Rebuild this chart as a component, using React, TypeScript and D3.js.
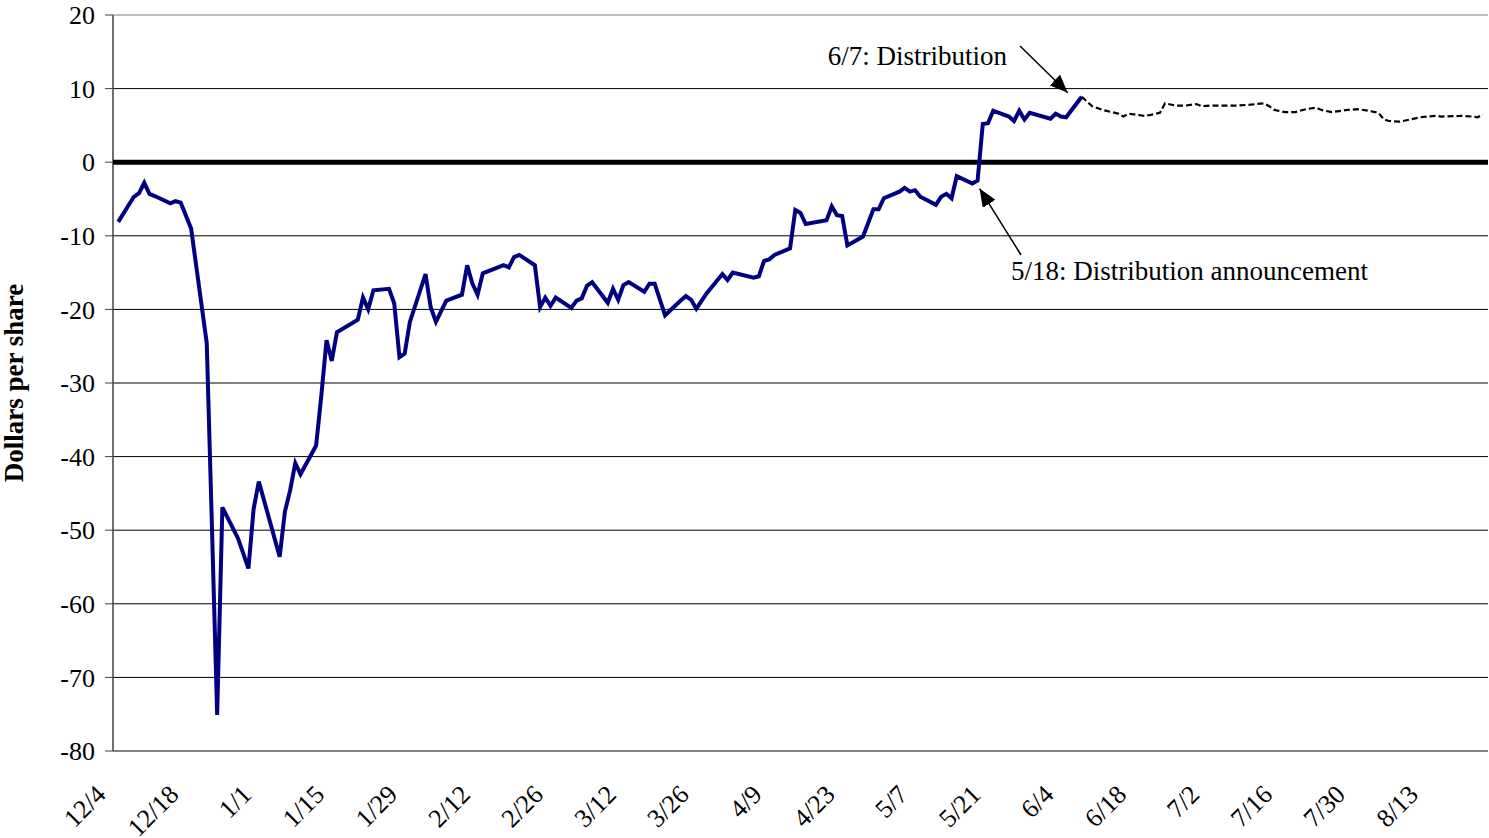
import React from "react";
import * as d3 from "d3";

const solidDates = [
  "2000-12-04","2000-12-07","2000-12-08","2000-12-09","2000-12-10","2000-12-11","2000-12-14","2000-12-15","2000-12-16","2000-12-18",
  "2000-12-21","2000-12-22","2000-12-23","2000-12-24","2000-12-27","2000-12-29","2000-12-30","2000-12-31","2001-01-04","2001-01-05",
  "2001-01-06","2001-01-07","2001-01-08","2001-01-11","2001-01-12","2001-01-13","2001-01-14","2001-01-15","2001-01-19","2001-01-20",
  "2001-01-21","2001-01-22","2001-01-25","2001-01-26","2001-01-27","2001-01-28","2001-01-29","2001-02-01","2001-02-02","2001-02-03",
  "2001-02-05","2001-02-08","2001-02-09","2001-02-10","2001-02-11","2001-02-12","2001-02-16","2001-02-17","2001-02-18","2001-02-19",
  "2001-02-22","2001-02-23","2001-02-24","2001-02-25","2001-02-26","2001-03-01","2001-03-02","2001-03-03","2001-03-04","2001-03-05",
  "2001-03-08","2001-03-09","2001-03-10","2001-03-11","2001-03-12","2001-03-15","2001-03-16","2001-03-17","2001-03-19","2001-03-22",
  "2001-03-23","2001-03-24","2001-03-25","2001-03-27","2001-03-30","2001-03-31","2001-04-01","2001-04-05","2001-04-06","2001-04-07",
  "2001-04-08","2001-04-09","2001-04-12","2001-04-13","2001-04-14","2001-04-15","2001-04-19","2001-04-20","2001-04-21","2001-04-22",
  "2001-04-23","2001-04-26","2001-04-28","2001-04-29","2001-04-30","2001-05-03","2001-05-04","2001-05-05","2001-05-06","2001-05-07",
  "2001-05-10","2001-05-11","2001-05-12","2001-05-13","2001-05-14","2001-05-17","2001-05-18","2001-05-19","2001-05-20","2001-05-21",
  "2001-05-24","2001-05-25","2001-05-26","2001-05-27","2001-05-28","2001-06-01","2001-06-02","2001-06-03","2001-06-04","2001-06-07"
];
const solidValues = [
  -8.1,-4.7,-4.2,-2.8,-4.3,-4.6,-5.6,-5.3,-5.5,-9.0,
  -24.6,-49.6,-75.1,-46.9,-51.1,-55.2,-47.1,-43.4,-53.6,-47.5,
  -44.6,-40.9,-42.4,-38.5,-31.7,-24.2,-27.0,-23.1,-21.4,-18.4,
  -20.0,-17.4,-17.2,-19.2,-26.5,-26.0,-21.7,-15.2,-19.7,-21.7,
  -18.8,-18.0,-14.0,-16.5,-18.0,-15.1,-14.0,-14.3,-12.9,-12.6,
  -14.0,-19.7,-18.4,-19.5,-18.4,-19.8,-18.8,-18.5,-16.8,-16.3,
  -19.1,-17.2,-18.7,-16.7,-16.3,-17.6,-16.5,-16.5,-20.8,-18.8,
  -18.2,-18.7,-19.9,-17.8,-15.2,-16.0,-15.0,-15.7,-15.5,-13.4,
  -13.2,-12.6,-11.7,-6.5,-6.9,-8.4,-7.9,-6.0,-7.2,-7.3,
  -11.3,-10.1,-6.4,-6.4,-4.9,-4.0,-3.5,-4.0,-3.8,-4.7,
  -5.8,-4.7,-4.3,-4.9,-1.9,-2.9,-2.5,5.2,5.3,7.0,
  6.2,5.6,7.0,5.8,6.7,5.9,6.6,6.2,6.1,8.9
];

const dashedDates = [
  "2001-06-07","2001-06-09","2001-06-11","2001-06-14","2001-06-15","2001-06-16","2001-06-19","2001-06-20","2001-06-22","2001-06-23",
  "2001-06-25","2001-06-27","2001-06-29","2001-06-30","2001-07-02","2001-07-05","2001-07-07","2001-07-09","2001-07-12","2001-07-13",
  "2001-07-14","2001-07-16","2001-07-18","2001-07-20","2001-07-22","2001-07-23","2001-07-25","2001-07-28","2001-07-30","2001-08-01",
  "2001-08-03","2001-08-04","2001-08-05","2001-08-07","2001-08-09","2001-08-11","2001-08-14","2001-08-15","2001-08-19","2001-08-21",
  "2001-08-22","2001-08-23"
];
const dashedValues = [
  8.9,7.6,7.1,6.6,6.2,6.6,6.3,6.4,6.7,8.0,
  7.7,7.7,7.9,7.6,7.7,7.7,7.7,7.8,8.0,7.6,
  7.1,6.8,6.8,7.2,7.4,7.1,6.8,7.1,7.2,7.0,
  6.7,5.8,5.6,5.5,5.8,6.1,6.3,6.2,6.3,6.2,
  6.1,6.5
];

const xTickDates = [
  "2000-12-04","2000-12-18","2001-01-01","2001-01-15","2001-01-29","2001-02-12","2001-02-26","2001-03-12","2001-03-26","2001-04-09",
  "2001-04-23","2001-05-07","2001-05-21","2001-06-04","2001-06-18","2001-07-02","2001-07-16","2001-07-30","2001-08-13"
];
const yTicks = [20, 10, 0, -10, -20, -30, -40, -50, -60, -70, -80];
const xDomain = ["2000-12-03", "2001-08-24"];
const yDomain = [-80, 20];

const yTitle = "Dollars per share";
const annotationDistribution = { date: "2001-06-07", value: 8.9, label: "6/7: Distribution" };
const annotationAnnouncement = { date: "2001-05-18", value: -2.5, label: "5/18: Distribution announcement" };

const parse = d3.timeParse("%Y-%m-%d");
const fmt = d3.timeFormat("%-m/%-d");

export default function App() {
  const W = 1489, H = 838;
  const left = 113, right = 1488, top = 15, bottom = 751;
  const x = d3.scaleTime().domain(xDomain.map((s) => parse(s) as Date)).range([left, right]);
  const y = d3.scaleLinear().domain(yDomain).range([bottom, top]);
  const font = "'Liberation Serif', 'Times New Roman', serif";

  const solid = solidDates.map((d, i) => ({ d: parse(d) as Date, v: solidValues[i] }));
  const dashed = dashedDates.map((d, i) => ({ d: parse(d) as Date, v: dashedValues[i] }));
  const line = d3.line<{ d: Date; v: number }>().x((p) => x(p.d)).y((p) => y(p.v));

  const aD = { x: x(parse(annotationDistribution.date) as Date), y: y(annotationDistribution.value) };
  const aA = { x: x(parse(annotationAnnouncement.date) as Date), y: y(annotationAnnouncement.value) };

  return (
    <svg width={W} height={H} style={{ position: "absolute", left: 0, top: 0, background: "#fff" }}>
      <defs>
        <marker id="arr" viewBox="0 0 10 10" refX="10" refY="5" markerWidth="18" markerHeight="15" markerUnits="userSpaceOnUse" orient="auto" preserveAspectRatio="none">
          <path d="M0,0 L10,5 L0,10 z" fill="#000" />
        </marker>
      </defs>
      <rect x={0} y={0} width={W} height={H} fill="#fff" />
      {yTicks.map((t) => (
        <g key={t}>
          {t !== 0 && (
            <line x1={left} x2={right} y1={y(t)} y2={y(t)}
              stroke={t === 20 || t === -80 ? "#808080" : "#000"}
              strokeWidth={t === -80 ? 2 : 1} />
          )}
          <line x1={105} x2={left} y1={y(t)} y2={y(t)} stroke="#404040" strokeWidth={1} />
          <text x={95} y={y(t)} dy="0.35em" textAnchor="end" fontFamily={font} fontSize={26} fill="#000">{t}</text>
        </g>
      ))}
      <line x1={left} x2={left} y1={top} y2={bottom} stroke="#404040" strokeWidth={1.5} />
      <line x1={left} x2={right} y1={y(0)} y2={y(0)} stroke="#000" strokeWidth={5} />
      {xTickDates.map((s) => {
        const d = parse(s) as Date;
        return (
          <text key={s} transform={`translate(${x(d) - 11},796) rotate(-45)`} textAnchor="end"
            fontFamily={font} fontSize={26} fill="#000">{fmt(d)}</text>
        );
      })}
      <text transform={`translate(23,${(top + bottom) / 2}) rotate(-90)`} textAnchor="middle"
        fontFamily={font} fontSize={27} fontWeight="bold" fill="#000">{yTitle}</text>
      <path d={line(solid) || ""} fill="none" stroke="#000080" strokeWidth={4} strokeLinejoin="miter" />
      <path d={line(dashed) || ""} fill="none" stroke="#000" strokeWidth={2.2} strokeDasharray="6,3" />
      <text x={1007} y={65} textAnchor="end" fontFamily={font} fontSize={27} fill="#000">{annotationDistribution.label}</text>
      <line x1={1020} y1={46} x2={aD.x - 14} y2={aD.y - 4} stroke="#000" strokeWidth={1.5} markerEnd="url(#arr)" />
      <text x={1011} y={280} textAnchor="start" fontFamily={font} fontSize={27} fill="#000">{annotationAnnouncement.label}</text>
      <line x1={1021} y1={255} x2={aA.x + 2} y2={aA.y + 8} stroke="#000" strokeWidth={1.5} markerEnd="url(#arr)" />
    </svg>
  );
}
